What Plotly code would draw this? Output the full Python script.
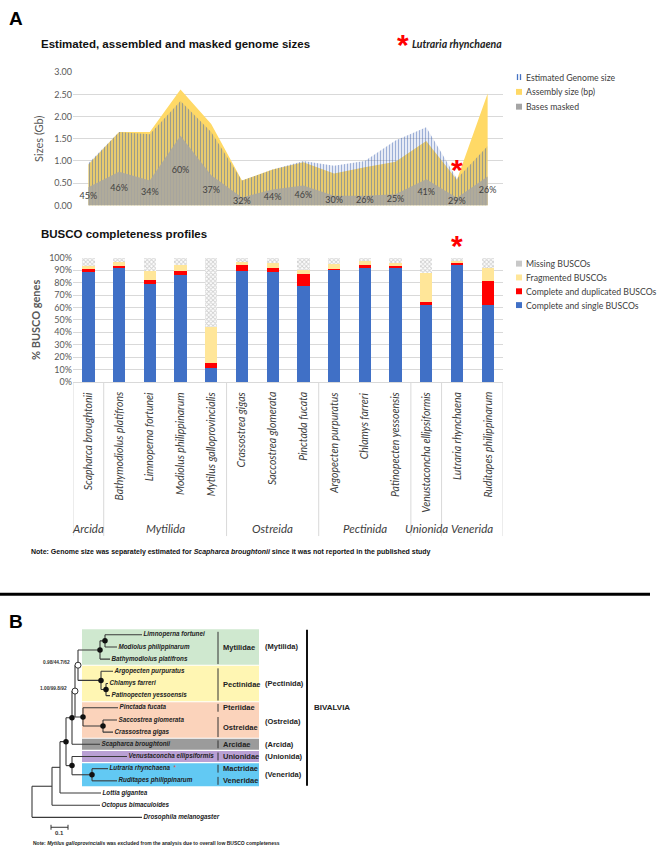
import plotly.graph_objects as go

W, H = 661, 853

# ---------------- data ----------------
species = ["Scapharca broughtonii", "Bathymodiolus platifrons", "Limnoperna fortunei",
           "Modiolus philippinarum", "Mytilus galloprovincialis", "Crassostrea gigas",
           "Saccostrea glomerata", "Pinctada fucata", "Argopecten purpuratus",
           "Chlamys farreri", "Patinopecten yessoensis", "Venustaconcha ellipsiformis",
           "Lutraria rhynchaena", "Ruditapes philippinarum"]
species_order = ["Arcida", "Mytilida", "Mytilida", "Mytilida", "Mytilida", "Ostreida",
                 "Ostreida", "Ostreida", "Pectinida", "Pectinida", "Pectinida",
                 "Unionida", "Venerida", "Venerida"]

estimated_gb = [0.95, 1.65, 1.60, 2.35, 1.65, 0.56, 0.81, 1.00, 0.89, 1.00, 1.46, 1.76, 0.60, 1.34]
assembly_gb = [0.92, 1.65, 1.65, 2.61, 1.83, 0.56, 0.81, 0.97, 0.72, 0.86, 0.98, 1.45, 0.58, 2.52]
masked_gb = [0.41, 0.76, 0.56, 1.57, 0.68, 0.18, 0.36, 0.45, 0.22, 0.22, 0.25, 0.59, 0.17, 0.65]
masked_pct = ["45%", "46%", "34%", "60%", "37%", "32%", "44%", "46%", "30%", "26%", "25%", "41%", "29%", "26%"]

busco_single = [88.5, 92.5, 78.5, 86.5, 11.0, 89.5, 88.5, 77.0, 90.5, 91.5, 92.5, 63.0, 94.5, 62.0]
busco_dup = [2.5, 1.0, 3.5, 3.0, 4.0, 5.5, 3.0, 10.0, 0.5, 2.5, 1.5, 1.5, 1.5, 19.0]
busco_frag = [2.0, 3.0, 7.5, 5.0, 29.0, 1.5, 4.0, 3.0, 4.0, 3.0, 1.5, 23.5, 1.0, 10.5]
busco_missing = [7.0, 3.5, 10.5, 5.5, 56.0, 3.5, 4.5, 10.0, 5.0, 3.0, 4.5, 12.0, 3.0, 8.5]

highlight = "Lutraria rhynchaena"

# tree (cladogram) data: leaves top to bottom, tip depths and internal nodes
tree_leaves = ["Limnoperna fortunei", "Modiolus philippinarum", "Bathymodiolus platifrons",
               "Argopecten purpuratus", "Chlamys farreri", "Patinopecten yessoensis",
               "Pinctada fucata", "Saccostrea glomerata", "Crassostrea gigas",
               "Scapharca broughtonii", "Venustaconcha ellipsiformis", "Lutraria rhynchaena",
               "Ruditapes philippinarum", "Lottia gigantea", "Octopus bimaculoides",
               "Drosophila melanogaster"]
tree_tip_depth = [142, 117, 110, 113, 108, 110, 118, 117, 113, 100, 127, 108, 117, 101, 100, 142]
tree_nodes = [  # name, depth, child a, child b, marker
    ("LM", 105, "Limnoperna fortunei", "Modiolus philippinarum", "dot"),
    ("MYT", 100, "LM", "Bathymodiolus platifrons", "dot"),
    ("CP", 106, "Chlamys farreri", "Patinopecten yessoensis", "dot"),
    ("PEC", 101, "Argopecten purpuratus", "CP", "dot"),
    ("SC", 103, "Saccostrea glomerata", "Crassostrea gigas", "dot"),
    ("OST", 83, "Pinctada fucata", "SC", "dot"),
    ("P1", 78, "MYT", "PEC", "open"),
    ("P2", 75, "P1", "OST", "open"),
    ("P3", 72, "P2", "Scapharca broughtonii", "dot"),
    ("VEN", 92, "Lutraria rhynchaena", "Ruditapes philippinarum", "dot"),
    ("UV", 72, "Venustaconcha ellipsiformis", "VEN", "dot"),
    ("BIV", 66, "P3", "UV", "dot"),
    ("P5", 60, "BIV", "Lottia gigantea", ""),
    ("P6", 52, "P5", "Octopus bimaculoides", ""),
    ("ROOT", 32, "P6", "Drosophila melanogaster", ""),
]
support_nodes = ["P1", "P2"]
support_values = ["0.98/44.7/62", "1.00/99.8/92"]

clade_first = [0, 3, 6, 9, 10, 11]
clade_last = [2, 5, 8, 9, 10, 12]
clade_names = ["(Mytilida)", "(Pectinida)", "(Ostreida)", "(Arcida)", "(Unionida)", "(Venerida)"]
clade_colors = ["#cfe8cf", "#fff6b3", "#fbd3bb", "#9b9b9b", "#b9a0d4", "#62c9f3"]

families = ["Mytilidae", "Pectinidae", "Pteriidae", "Ostreidae", "Arcidae", "Unionidae",
            "Mactridae", "Veneridae"]
family_first = [0, 3, 6, 7, 9, 10, 11, 12]
family_last = [2, 5, 6, 8, 9, 10, 11, 12]

# ---------------- helpers ----------------
def py(p):  # pixel row -> paper y
    return 1 - p / H

def px(p):
    return p / W

CAL = "Lato, Carlito, Calibri, Liberation Sans, Arial, sans-serif"
ARIAL = "Liberation Sans, Arial, sans-serif"
GREY_TXT = "#404040"

C_YELLOW = "#ffd966"
C_GREY = "rgba(168,166,160,0.88)"
C_STRIPE = "#3a5fb0"
C_SINGLE = "#4070c6"
C_DUP = "#ff0000"
C_FRAG = "#ffe699"
C_MISS = "#a0a0a0"

fig = go.Figure()

# ---------------- chart A: genome sizes ----------------
fig.add_trace(go.Scatter(x=species, y=assembly_gb, fill="tozeroy", mode="none",
                         fillcolor=C_YELLOW, name="Assembly size (bp)",
                         xaxis="x", yaxis="y", showlegend=False, hoverinfo="skip"))
fig.add_trace(go.Scatter(x=species, y=estimated_gb, fill="tozeroy", mode="none",
                         fillcolor="rgba(0,0,0,0)",
                         fillpattern=dict(shape="|", fgcolor=C_STRIPE, bgcolor="rgba(0,0,0,0)",
                                          size=3, solidity=0.5),
                         name="Estimated Genome size",
                         xaxis="x", yaxis="y", showlegend=False, hoverinfo="skip"))
fig.add_trace(go.Scatter(x=species, y=masked_gb, fill="tozeroy", mode="none",
                         fillcolor=C_GREY, name="Bases masked",
                         xaxis="x", yaxis="y", showlegend=False, hoverinfo="skip"))
fig.add_trace(go.Scatter(x=species, y=[m / 2 for m in masked_gb], mode="text",
                         text=masked_pct, textfont=dict(family=CAL, size=9, color=GREY_TXT),
                         xaxis="x", yaxis="y", showlegend=False, hoverinfo="skip"))

# ---------------- chart B: BUSCO ----------------
busco_series = [("Complete and single BUSCOs", busco_single, C_SINGLE, None),
                ("Complete and duplicated BUSCOs", busco_dup, C_DUP, None),
                ("Fragmented BUSCOs", busco_frag, C_FRAG, None),
                ("Missing BUSCOs", busco_missing, "#ffffff",
                 dict(shape="x", fgcolor=C_MISS, bgcolor="#ffffff", size=3, solidity=0.5))]
for name, vals, col, pat in busco_series:
    marker = dict(color=col, line=dict(width=0))
    if pat:
        marker["pattern"] = pat
    fig.add_trace(go.Bar(x=species, y=vals, name=name, marker=marker,
                         xaxis="x2", yaxis="y2", showlegend=False, hoverinfo="skip"))

# ---------------- tree ----------------
leaf_y0, leaf_dy = 637.0, 12.33
ypos = {n: leaf_y0 + i * leaf_dy for i, n in enumerate(tree_leaves)}
xpos = {n: d for n, d in zip(tree_leaves, tree_tip_depth)}
for name, d, a, b, _ in tree_nodes:
    xpos[name] = d
    ypos[name] = (ypos[a] + ypos[b]) / 2

seg_x, seg_y = [], []
for name, d, a, b, _ in tree_nodes:
    seg_x += [d, d, None]
    seg_y += [ypos[a], ypos[b], None]
    for c in (a, b):
        seg_x += [d, xpos[c], None]
        seg_y += [ypos[c], ypos[c], None]
fig.add_trace(go.Scatter(x=seg_x, y=seg_y, mode="lines", line=dict(color="#3a3a3a", width=1.1),
                         xaxis="x3", yaxis="y3", showlegend=False, hoverinfo="skip"))

dots = [n for n, _, _, _, m in tree_nodes if m == "dot"]
opens = [n for n, _, _, _, m in tree_nodes if m == "open"]
fig.add_trace(go.Scatter(x=[xpos[n] for n in dots], y=[ypos[n] for n in dots], mode="markers",
                         marker=dict(color="#111111", size=5.5),
                         xaxis="x3", yaxis="y3", showlegend=False, hoverinfo="skip"))
fig.add_trace(go.Scatter(x=[xpos[n] for n in opens], y=[ypos[n] for n in opens], mode="markers",
                         marker=dict(color="#ffffff", size=6, line=dict(color="#333333", width=1)),
                         xaxis="x3", yaxis="y3", showlegend=False, hoverinfo="skip"))

leaf_text = []
for n in tree_leaves:
    t = f"<b><i>{n}</i></b>"
    if n == highlight:
        t += "  <span style='color:#e0504a'>*</span>"
    leaf_text.append(t)
fig.add_trace(go.Scatter(x=[xpos[n] + 1.5 for n in tree_leaves], y=[ypos[n] for n in tree_leaves],
                         mode="text", text=leaf_text, textposition="middle right",
                         textfont=dict(family=ARIAL, size=6.3, color="#222222"),
                         xaxis="x3", yaxis="y3", showlegend=False, hoverinfo="skip"))

# scale bar (0.1 substitutions = 17 depth units)
sb_x0, sb_len, sb_y = 51, 17, 832
fig.add_trace(go.Scatter(x=[sb_x0, sb_x0 + sb_len, None, sb_x0, sb_x0, None, sb_x0 + sb_len, sb_x0 + sb_len],
                         y=[sb_y, sb_y, None, sb_y - 2.5, sb_y + 2.5, None, sb_y - 2.5, sb_y + 2.5],
                         mode="lines", line=dict(color="#333333", width=1),
                         xaxis="x3", yaxis="y3", showlegend=False, hoverinfo="skip"))

shapes, annotations = [], []

def note(x, y, text, size, family=ARIAL, color="#222222", xanchor="left", **kw):
    d = dict(xref="paper", yref="paper", x=px(x), y=py(y), text=text, showarrow=False,
             xanchor=xanchor, yanchor="middle", font=dict(family=family, size=size, color=color))
    d.update(kw)
    annotations.append(d)

# clade boxes, family separators & labels
box_x0, box_x1 = 82, 259
for f, l, c, cn in zip(clade_first, clade_last, clade_colors, clade_names):
    y0 = ypos[tree_leaves[f]] - 5.6
    y1 = ypos[tree_leaves[l]] + 5.6
    shapes.append(dict(type="rect", xref="x3", yref="y3", x0=box_x0, x1=box_x1, y0=y0, y1=y1,
                       fillcolor=c, line=dict(width=0), layer="below"))
    annotations.append(dict(xref="x3", yref="y3", x=263, y=(y0 + y1) / 2 + (2 if cn == "(Ostreida)" else 0),
                            text=f"<b>{cn}</b>", showarrow=False, xanchor="left", yanchor="middle",
                            font=dict(family=ARIAL, size=7.5, color="#222222")))
for fam, f, l in zip(families, family_first, family_last):
    ya, yb = ypos[tree_leaves[f]], ypos[tree_leaves[l]]
    if l > f:
        s0, s1 = ya - 3, yb + 5
    else:
        s0, s1 = ya - 4, ya + 4
    shapes.append(dict(type="line", xref="x3", yref="y3", x0=218, x1=218, y0=s0, y1=s1,
                       line=dict(color="#333333", width=1)))
    annotations.append(dict(xref="x3", yref="y3", x=221, y=(ya + yb) / 2 + (1 if l > f else 0),
                            text=f"<b>{fam}</b>", showarrow=False, xanchor="left", yanchor="middle",
                            font=dict(family=ARIAL, size=7.5, color="#222222")))

# BIVALVIA bar
biv_top = ypos[tree_leaves[0]] - 5
biv_bot = ypos[tree_leaves[12]] + 5
shapes.append(dict(type="line", xref="x3", yref="y3", x0=307, x1=307, y0=biv_top, y1=biv_bot,
                   line=dict(color="#111111", width=2)))
annotations.append(dict(xref="x3", yref="y3", x=312, y=(biv_top + biv_bot) / 2, text="<b>BIVALVIA</b>",
                        showarrow=False, xanchor="left", yanchor="middle",
                        font=dict(family=ARIAL, size=8, color="#222222")))

for n, s in zip(support_nodes, support_values):
    annotations.append(dict(xref="x3", yref="y3", x=xpos[n] - 6, y=ypos[n] - 3, text=f"<b>{s}</b>",
                            showarrow=False, xanchor="right", yanchor="middle",
                            font=dict(family=ARIAL, size=4.8, color="#333333")))
annotations.append(dict(xref="x3", yref="y3", x=sb_x0 + sb_len / 2, y=sb_y + 6, text="<b>0.1</b>",
                        showarrow=False, yanchor="middle", font=dict(family=ARIAL, size=6, color="#333333")))

# ---------------- chart B category labels ----------------
for s in species:
    annotations.append(dict(xref="x2", yref="paper", x=s, y=py(389), text=f"<i>{s}</i>",
                            textangle=-90, showarrow=False, yanchor="top", xanchor="center",
                            font=dict(family=CAL, size=10.5, color=GREY_TXT)))
groups = []
for i, o in enumerate(species_order):
    if groups and groups[-1][0] == o:
        groups[-1][2] = i
    else:
        groups.append([o, i, i])
bounds = [-0.5] + [g[2] + 0.5 for g in groups]
for b in bounds:
    shapes.append(dict(type="line", xref="x2", yref="paper", x0=b, x1=b, y0=py(381), y1=py(537),
                       line=dict(color="#d9d9d9", width=1)))
for o, a, b in groups:
    annotations.append(dict(xref="x2", yref="paper", x=(a + b) / 2, y=py(529), text=f"<i>{o}</i>",
                            showarrow=False, yanchor="middle",
                            font=dict(family=CAL, size=11.5, color=GREY_TXT)))

# red stars marking the new genome
hi = species.index(highlight)
annotations.append(dict(xref="x2", yref="paper", x=highlight, y=py(243), text="<b>*</b>",
                        showarrow=False, yanchor="middle",
                        font=dict(family=ARIAL, size=30, color="#ff0000")))
annotations.append(dict(xref="x", yref="y", x=highlight, y=estimated_gb[hi] + 0.2, text="<b>*</b>",
                        showarrow=False, yanchor="middle",
                        font=dict(family=ARIAL, size=30, color="#ff0000")))

# ---------------- custom legends ----------------
legend_a = [("Estimated Genome size", "stripe"), ("Assembly size (bp)", C_YELLOW),
            ("Bases masked", "#a5a5a5")]
legend_b = [("Missing BUSCOs", "miss"), ("Fragmented BUSCOs", C_FRAG),
            ("Complete and duplicated BUSCOs", C_DUP), ("Complete and single BUSCOs", C_SINGLE)]

def draw_legend(items, y_first, dy):
    for k, (label, col) in enumerate(items):
        yc = y_first + k * dy
        if col == "stripe":
            for xx in (517.5, 520.5):
                shapes.append(dict(type="line", xref="paper", yref="paper", x0=px(xx), x1=px(xx),
                                   y0=py(yc - 3), y1=py(yc + 3), line=dict(color="#4472c4", width=1.3)))
        elif col == "miss":
            shapes.append(dict(type="rect", xref="paper", yref="paper", x0=px(516), x1=px(522),
                               y0=py(yc - 3), y1=py(yc + 3), fillcolor="#c8c8c8", line=dict(width=0)))
        else:
            shapes.append(dict(type="rect", xref="paper", yref="paper", x0=px(516), x1=px(522),
                               y0=py(yc - 3), y1=py(yc + 3), fillcolor=col, line=dict(width=0)))
        note(524, yc, label, 8.7, family=CAL, color=GREY_TXT)

draw_legend(legend_a, 72, 15)
draw_legend(legend_b, 261, 14)

# ---------------- titles & notes ----------------
note(7, 13, "<b>A</b>", 19, color="#000000")
note(7, 624, "<b>B</b>", 19, color="#000000")
note(39, 38, "<b>Estimated, assembled and masked genome sizes</b>", 11.5, color="#111111")
note(39, 231, "<b>BUSCO completeness profiles</b>", 11.5, color="#111111")
note(395, 39, "<b>*</b>", 30, color="#ff0000")
note(410, 38, f"<b><i>{highlight}</i></b>", 10.5, family=CAL, color="#222222")
note(29, 553, "<b>Note: Genome size was separately estimated for <i>Scapharca broughtonii</i> since it was not reported in the published study</b>",
     7, color="#111111")
note(31, 848, "<b>Note: <i>Mytilus galloprovincialis</i> was excluded from the analysis due to overall low BUSCO completeness</b>",
     5, color="#222222")
shapes.append(dict(type="line", xref="paper", yref="paper", x0=0, x1=px(650), y0=py(596), y1=py(596),
                   line=dict(color="#000000", width=3)))

# ---------------- layout ----------------
axis_font = dict(family=CAL, size=9, color="#595959")
fig.update_layout(
    width=W, height=H, margin=dict(l=0, r=0, t=0, b=0),
    paper_bgcolor="#ffffff", plot_bgcolor="rgba(0,0,0,0)",
    barmode="stack", bargap=0.6, showlegend=False,
    xaxis=dict(domain=[px(73), px(503)], type="category", range=[-0.5, 13.5], showticklabels=False,
               showgrid=False, zeroline=False, showline=False, ticks=""),
    yaxis=dict(domain=[py(202), py(67)], range=[0, 3], dtick=0.5, tickformat=".2f",
               gridcolor="#d9d9d9", zeroline=False, tickfont=axis_font, ticks="",
               title=dict(text="Sizes (Gb)", font=dict(family=CAL, size=11, color="#595959"), standoff=8)),
    xaxis2=dict(domain=[px(73), px(503)], anchor="y2", type="category", range=[-0.5, 13.5],
                showticklabels=False, showgrid=False, zeroline=False, showline=True,
                linecolor="#d9d9d9", ticks=""),
    yaxis2=dict(domain=[py(381), py(255)], anchor="x2", range=[0, 100], dtick=10, ticksuffix="%",
                gridcolor="#d9d9d9", zeroline=False, tickfont=axis_font, ticks="",
                title=dict(text="<b>% BUSCO genes</b>", font=dict(family=CAL, size=11, color="#595959"), standoff=6)),
    xaxis3=dict(domain=[0, 1], anchor="y3", range=[0, W], visible=False),
    yaxis3=dict(domain=[0, py(600)], anchor="x3", range=[H, 600], visible=False),
    shapes=shapes, annotations=annotations,
)

fig.write_html("out.html", config={"displayModeBar": False},
               post_script="document.body.style.margin='0';document.body.style.overflow='hidden';")
